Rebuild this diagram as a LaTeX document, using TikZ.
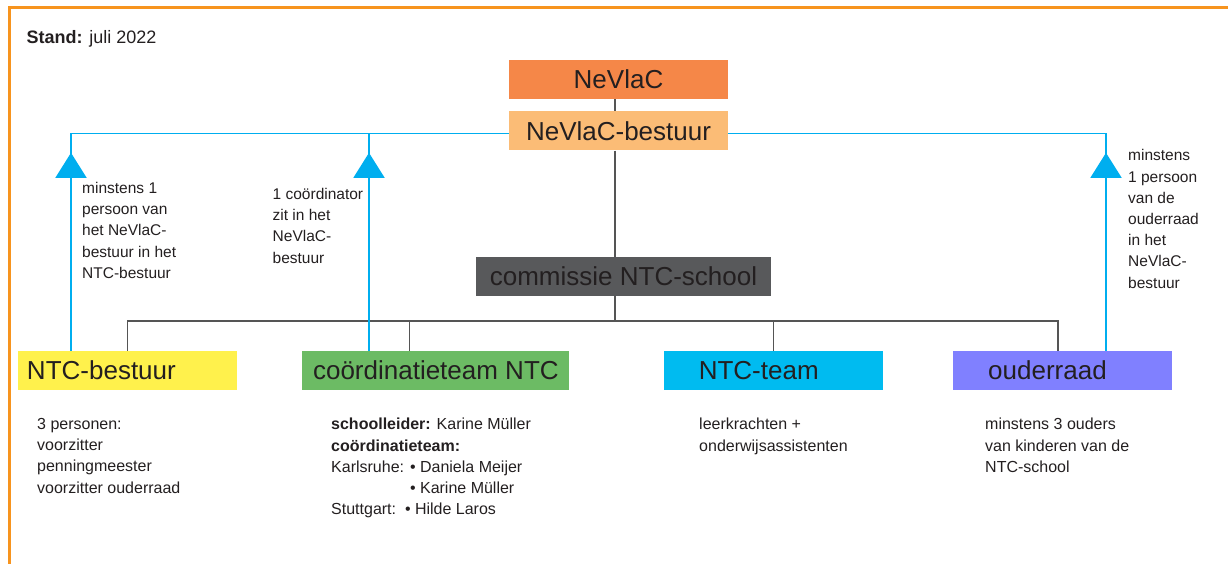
\documentclass[tikz,border=0pt]{standalone}
\usepackage{fontspec}
\setmainfont{Liberation Sans}
\usepackage{tikz}
\usetikzlibrary{positioning, arrows.meta, decorations.markings}
\definecolor{frameorange}{RGB}{247,148,30}
\definecolor{nevlacorange}{RGB}{245,135,72}
\definecolor{boardorange}{RGB}{251,188,118}
\definecolor{commgrey}{RGB}{88,89,91}
\definecolor{boardyellow}{RGB}{255,241,76}
\definecolor{teamgreen}{RGB}{108,187,100}
\definecolor{teamcyan}{RGB}{0,187,240}
\definecolor{parentviolet}{RGB}{128,128,255}
\definecolor{linkblue}{RGB}{0,174,239}
\definecolor{linegrey}{RGB}{85,85,85}
\definecolor{inktext}{RGB}{35,31,32}
\tikzset{
    orgbox/.style={minimum height=39pt, inner sep=0pt, text=inktext,
      font=\fontsize{26pt}{30pt}\selectfont},
    orgline/.style={draw=linegrey, line width=1.6pt},
    upline/.style={draw=linkblue, line width=1.6pt, postaction={decorate},
      decoration={markings, mark=at position 198pt with
        {\arrow[linkblue]{Triangle[width=31pt,length=25pt]}}}},
    sidenote/.style={anchor=north west, inner sep=0pt, align=left, text=inktext,
      font=\fontsize{15.5pt}{21.2pt}\selectfont},
    infonote/.style={anchor=north west, inner sep=0pt, align=left, text=inktext,
      font=\fontsize{16pt}{21.3pt}\selectfont},
}
\begin{document}
\begin{tikzpicture}[x=1pt, y=-1pt]
    \useasboundingbox (0,0) rectangle (1228,564);
    \draw[frameorange, line width=3pt] (1228,7.5) -- (9.5,7.5) -- (9.5,564);

    \node[anchor=base west, inner sep=0pt, text=inktext,
      font=\fontsize{18pt}{21pt}\selectfont] (stand) at (26.5,43.3) {\textbf{Stand:} juli 2022};

    % top of the tree
    \node[orgbox, fill=nevlacorange, minimum width=219pt] (nevlac) at (618.5,79.5) {NeVlaC};
    \node[orgbox, fill=boardorange, minimum width=219pt, below=12pt of nevlac] (bestuur) {NeVlaC-bestuur};
    \node[orgbox, fill=commgrey, minimum width=295pt, below=106pt of bestuur, xshift=5pt] (commissie) {commissie NTC-school};

    % row of teams
    \node[orgbox, fill=boardyellow, minimum width=219pt, text width=201pt, align=left] (ntcb) at (127.5,370.5) {NTC-bestuur};
    \node[orgbox, fill=teamgreen, minimum width=267pt, right=65pt of ntcb] (coord) {coördinatieteam NTC};
    \node[orgbox, fill=teamcyan, minimum width=219pt, text width=149pt, align=left, right=94pt of coord] (ntct) {NTC-team};
    \node[orgbox, fill=parentviolet, minimum width=219pt, text width=149pt, align=left, right=70pt of ntct] (oudr) {ouderraad};

    \coordinate (trunk) at (615,0);
    \coordinate (bus) at (615,321);
    \draw[orgline] (nevlac.south -| trunk) -- (bestuur.north -| trunk);
    \draw[orgline] (bestuur.south -| trunk) -- (commissie.north -| trunk);
    \draw[orgline] (commissie.south -| trunk) -- (bus);
    \draw[orgline] (bus) -| (ntcb.north);
    \draw[orgline] (bus) -| ([xshift=-26.5pt]coord.north);
    \draw[orgline] (bus) -| (ntct.north);
    \draw[orgline] (bus) -| ([xshift=-4.5pt]oudr.north);

    % links up to the NeVlaC board
    \coordinate (upA) at (71,0);
    \coordinate (upB) at (369,0);
    \coordinate (upC) at (1106,0);
    \draw[upline] (ntcb.north -| upA) -- ([yshift=-2.5pt]bestuur.west -| upA) -- ([yshift=-2.5pt]bestuur.west);
    \draw[upline] (coord.north -| upB) -- ([yshift=-2.5pt]bestuur.west -| upB);
    \draw[upline] (oudr.north -| upC) -- ([yshift=-2.5pt]bestuur.east -| upC) -- ([yshift=-2.5pt]bestuur.east);

    \node[sidenote] (noteA) at (82,182) {minstens 1\\persoon van\\het NeVlaC-\\bestuur in het\\NTC-bestuur};
    \node[sidenote] (noteB) at (272.5,188) {1 coördinator\\zit in het\\NeVlaC-\\bestuur};
    \node[sidenote] (noteC) at (1128,149.5) {minstens\\1 persoon\\van de\\ouderraad\\in het\\NeVlaC-\\bestuur};

    \node[infonote] (infoA) at (37,418) {3 personen:\\voorzitter\\penningmeester\\voorzitter ouderraad};
    \node[infonote] (infoB) at (331,418) {\textbf{schoolleider:} Karine Müller\\\textbf{coördinatieteam:}\\Karlsruhe: • Daniela Meijer\\\hphantom{Karlsruhe: }• Karine Müller\\Stuttgart:\ \ • Hilde Laros};
    \node[infonote] (infoC) at (699,418) {leerkrachten +\\onderwijsassistenten};
    \node[infonote] (infoD) at (985,418) {minstens 3 ouders\\van kinderen van de\\NTC-school};
\end{tikzpicture}
\end{document}
